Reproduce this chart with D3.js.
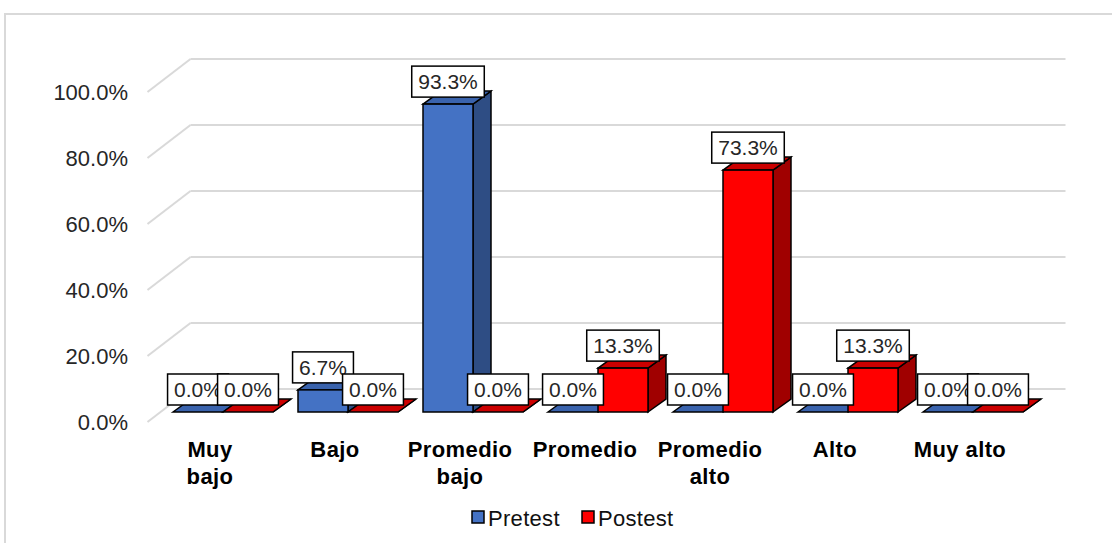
<!DOCTYPE html>
<html>
<head>
<meta charset="utf-8">
<script src="https://cdn.jsdelivr.net/npm/d3@7"></script>
<style>
  body { margin: 0; background: #fff; }
  text { font-family: "Liberation Sans", Arial, sans-serif; }
</style>
</head>
<body>
<div id="chart"></div>
<script>
(function() {
  var W = 1112, H = 543;

  // data
  var categories = ["Muy bajo", "Bajo", "Promedio bajo", "Promedio", "Promedio alto", "Alto", "Muy alto"];
  var categoryLines = [["Muy", "bajo"], ["Bajo"], ["Promedio", "bajo"], ["Promedio"], ["Promedio", "alto"], ["Alto"], ["Muy alto"]];
  var seriesNames = ["Pretest", "Postest"];
  var pretest = [0.0, 6.7, 93.3, 0.0, 0.0, 0.0, 0.0];
  var postest = [0.0, 0.0, 0.0, 13.3, 73.3, 13.3, 0.0];
  var yTicks = [0, 20, 40, 60, 80, 100];

  var colors = {
    Pretest: { front: "#4472C4", top: "#3A63AD", side: "#2E4D84" },
    Postest: { front: "#FF0000", top: "#CC0000", side: "#A00000" }
  };

  // 3d depth offsets (front plane -> back wall), bar front / back planes
  var depth = { dx: 43, dy: -33 };
  var barFront = { dx: 13, dy: -10 };
  var barBack = { dx: 31, dy: -23 };

  var svg = d3.select("#chart").append("svg")
    .attr("width", W).attr("height", H);

  // outer frame
  svg.append("rect")
    .attr("x", 5).attr("y", 14)
    .attr("width", W + 20).attr("height", H + 20)
    .attr("fill", "#fff").attr("stroke", "#d9d9d9").attr("stroke-width", 2);

  var x = d3.scaleBand().domain(categories).range([147.5, 1022.5]).paddingInner(0).paddingOuter(0);
  // two bars of 50px each, 12.5px gap either side
  var xs = d3.scaleBand().domain(seriesNames).range([0, x.bandwidth()]).paddingOuter(0.25).paddingInner(0);
  var y = d3.scaleLinear().domain([0, 100]).range([422, 92]);

  // back wall gridlines + side wall diagonals
  var grid = svg.append("g").attr("stroke", "#d9d9d9").attr("stroke-width", 2).attr("fill", "none");
  grid.selectAll("line.back").data(yTicks).enter().append("line")
    .attr("x1", x.range()[0] + depth.dx).attr("x2", x.range()[1] + depth.dx)
    .attr("y1", function(d) { return y(d) + depth.dy; })
    .attr("y2", function(d) { return y(d) + depth.dy; });
  grid.selectAll("line.side").data(yTicks).enter().append("line")
    .attr("x1", x.range()[0]).attr("x2", x.range()[0] + depth.dx)
    .attr("y1", function(d) { return y(d); })
    .attr("y2", function(d) { return y(d) + depth.dy; });

  // y axis labels
  svg.append("g").selectAll("text").data(yTicks).enter().append("text")
    .attr("x", 128).attr("y", function(d) { return y(d); })
    .attr("dy", "0.35em")
    .attr("text-anchor", "end")
    .attr("font-size", 22)
    .attr("fill", "#262626")
    .text(function(d) { return d3.format(".1f")(d) + "%"; });

  // bar records
  var bars = [];
  categories.forEach(function(c, i) {
    bars.push({ cat: c, series: "Pretest", value: pretest[i] });
    bars.push({ cat: c, series: "Postest", value: postest[i] });
  });

  function pts(arr) { return arr.map(function(p) { return p.join(","); }).join(" "); }

  var barG = svg.append("g")
    .attr("stroke", "#000").attr("stroke-width", 1.5).attr("stroke-linejoin", "miter");

  bars.forEach(function(d) {
    var x0 = x(d.cat) + xs(d.series) + barFront.dx;
    var x1 = x0 + xs.bandwidth();
    var yb = y(0) + barFront.dy;
    var yt = y(d.value) + barFront.dy;
    var bdx = barBack.dx - barFront.dx, bdy = barBack.dy - barFront.dy;
    var c = colors[d.series];
    var g = barG.append("g");
    // side face
    g.append("polygon").attr("fill", c.side)
      .attr("points", pts([[x1, yb], [x1 + bdx, yb + bdy], [x1 + bdx, yt + bdy], [x1, yt]]));
    // top face
    g.append("polygon").attr("fill", c.top)
      .attr("points", pts([[x0, yt], [x0 + bdx, yt + bdy], [x1 + bdx, yt + bdy], [x1, yt]]));
    // front face
    g.append("rect").attr("fill", c.front)
      .attr("x", x0).attr("y", yt).attr("width", x1 - x0).attr("height", yb - yt);
    d.cx = (x0 + x1) / 2;
    d.top = yt;
  });

  // data labels
  var labG = svg.append("g");
  bars.forEach(function(d) {
    var g = labG.append("g");
    var rect = g.append("rect").attr("fill", "#fff").attr("stroke", "#000").attr("stroke-width", 1.5);
    var t = g.append("text")
      .attr("x", d.cx).attr("y", d.top - 7 - 15.5)
      .attr("dy", "0.35em")
      .attr("text-anchor", "middle")
      .attr("font-size", 21)
      .attr("fill", "#262626")
      .text(d3.format(".1f")(d.value) + "%");
    var w = t.node().getComputedTextLength() + 13;
    rect.attr("x", d.cx - w / 2).attr("y", d.top - 7 - 31)
      .attr("width", w).attr("height", 31);
  });

  // category labels
  var catG = svg.append("g");
  categories.forEach(function(c, i) {
    var t = catG.append("text")
      .attr("x", x(c) + x.bandwidth() / 2)
      .attr("y", 457)
      .attr("text-anchor", "middle")
      .attr("font-size", 22)
      .attr("letter-spacing", 0.4)
      .attr("font-weight", "bold")
      .attr("fill", "#000");
    categoryLines[i].forEach(function(line, j) {
      t.append("tspan").attr("x", x(c) + x.bandwidth() / 2).attr("dy", j === 0 ? 0 : 27).text(line);
    });
  });

  // legend
  var legend = svg.append("g");
  var legX = [472, 582];
  seriesNames.forEach(function(s, i) {
    legend.append("rect")
      .attr("x", legX[i]).attr("y", 511).attr("width", 12).attr("height", 12)
      .attr("fill", colors[s].front).attr("stroke", "#000").attr("stroke-width", 1.5);
    legend.append("text")
      .attr("x", legX[i] + 16).attr("y", 518)
      .attr("dy", "0.35em")
      .attr("font-size", 22)
      .attr("letter-spacing", 0.3)
      .attr("fill", "#111")
      .text(s);
  });
})();
</script>
</body>
</html>
